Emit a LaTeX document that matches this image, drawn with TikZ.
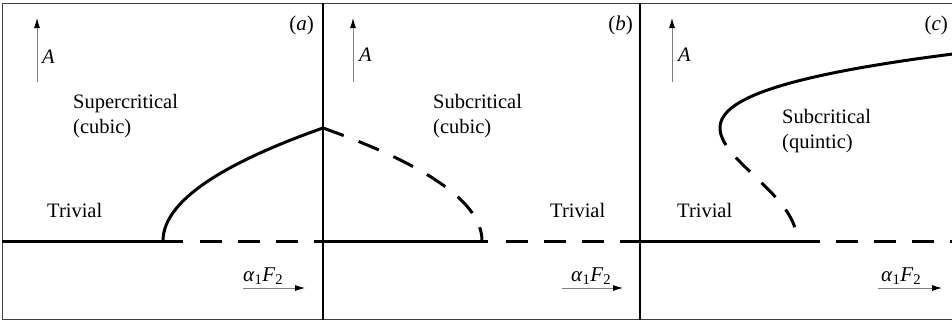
\documentclass[tikz,border=0pt]{standalone}
\usepackage{fontspec}
\setmainfont{Liberation Serif}
\usetikzlibrary{arrows.meta}
\begin{document}
\begin{tikzpicture}[x=1pt,y=-1pt,
  lbl/.style={font=\fontsize{20.5}{24}\selectfont, inner sep=0pt, anchor=base west},
  plbl/.style={font=\fontsize{21}{24}\selectfont, inner sep=0pt, anchor=base east},
  xlbl/.style={font=\fontsize{21}{24}\selectfont, inner sep=0pt, anchor=base west},
  branch/.style={line width=3pt},
  unstable/.style={line width=3pt, dash pattern=on 22pt off 16pt},
  axarrow/.style={line width=0.9pt, draw=black!50, -{Latex[length=10pt,width=6pt,color=black]}},
  frame/.style={line width=1pt, draw=black!75},
  divider/.style={line width=2pt},
]
\useasboundingbox (0,0) rectangle (952,322);
\begin{scope}
\clip (0,0) rectangle (952,322);
% frame and dividers
\draw[frame] (2.5,3.5) rectangle (970,319.5);
\draw[divider] (323,3) -- (323,320);
\draw[divider] (640,3) -- (640,320);

% ---------- panel (a)
\coordinate (a0) at (2,241);
\coordinate (a1) at (183,241);
\coordinate (a2) at (200,241);
\coordinate (a3) at (336,241);
\draw[branch] (a0) -- (a1);
\draw[unstable] (a2) -- (a3);
\draw[branch] plot[domain=0:113, samples=60, variable=\t] ({163+0.01253*\t*\t},{241-\t});

% ---------- panel (b)
\coordinate (b0) at (323,241);
\coordinate (b1) at (488,241);
\coordinate (b2) at (506,241);
\coordinate (b3) at (642,241);
\draw[branch] (b0) -- (b1);
\draw[unstable] (b2) -- (b3);
\draw[unstable] plot[domain=113:0, samples=60, variable=\t] ({482-0.01245*\t*\t},{241-\t});

% ---------- panel (c)
\coordinate (c0) at (640,241);
\coordinate (c1) at (820,241);
\coordinate (c2) at (836,241);
\coordinate (c3) at (970,241);
\draw[branch] (c0) -- (c1);
\draw[unstable] (c2) -- (c3);
\draw[branch] plot[domain=0.96:1.9, samples=80, variable=\t] ({797-120.6*\t*\t+47.23*\t*\t*\t*\t},{241-100*\t});
\draw[line width=3pt, dash pattern=on 20pt off 16pt, dash phase=20pt] plot[domain=0.96:0.1, samples=60, variable=\t] ({797-120.6*\t*\t+47.23*\t*\t*\t*\t},{241-100*\t});
\end{scope}

% ---------- axis arrows
\coordinate (ya0) at (37,82);  \coordinate (ya1) at (37,18);
\coordinate (yb0) at (353,82); \coordinate (yb1) at (353,18);
\coordinate (yc0) at (672,82); \coordinate (yc1) at (672,18);
\draw[axarrow] (ya0) -- (ya1);
\draw[axarrow] (yb0) -- (yb1);
\draw[axarrow] (yc0) -- (yc1);
\coordinate (xa0) at (243,288); \coordinate (xa1) at (305,288);
\coordinate (xb0) at (562,288); \coordinate (xb1) at (623,288);
\coordinate (xc0) at (878,288); \coordinate (xc1) at (942,288);
\draw[axarrow] (xa0) -- (xa1);
\draw[axarrow] (xb0) -- (xb1);
\draw[axarrow] (xc0) -- (xc1);

% ---------- labels
\node[lbl] (Aa) at (42,63) {\textit{A}};
\node[lbl] (Ab) at (359,61) {\textit{A}};
\node[lbl] (Ac) at (678,61) {\textit{A}};

\node[plbl] (pa) at (314,30) {(\textit{a})};
\node[plbl] (pb) at (633,30) {(\textit{b})};
\node[plbl] (pc) at (948,30) {(\textit{c})};

\node[xlbl] (fa) at (243,281) {\textit{α}\textsubscript{1}\textit{F}\textsubscript{2}};
\node[xlbl] (fb) at (571,281) {\textit{α}\textsubscript{1}\textit{F}\textsubscript{2}};
\node[xlbl] (fc) at (881,281) {\textit{α}\textsubscript{1}\textit{F}\textsubscript{2}};

\node[lbl] (supa) at (73,108) {Supercritical};
\node[lbl] (cuba) at (73,133) {(cubic)};
\node[lbl] (triva) at (47,217) {Trivial};

\node[lbl] (subb) at (433,108) {Subcritical};
\node[lbl] (cubb) at (433,133) {(cubic)};
\node[lbl] (trivb) at (550,217) {Trivial};

\node[lbl] (subc) at (782,123) {Subcritical};
\node[lbl] (quic) at (782,148) {(quintic)};
\node[lbl] (trivc) at (677,217) {Trivial};
\end{tikzpicture}
\end{document}
